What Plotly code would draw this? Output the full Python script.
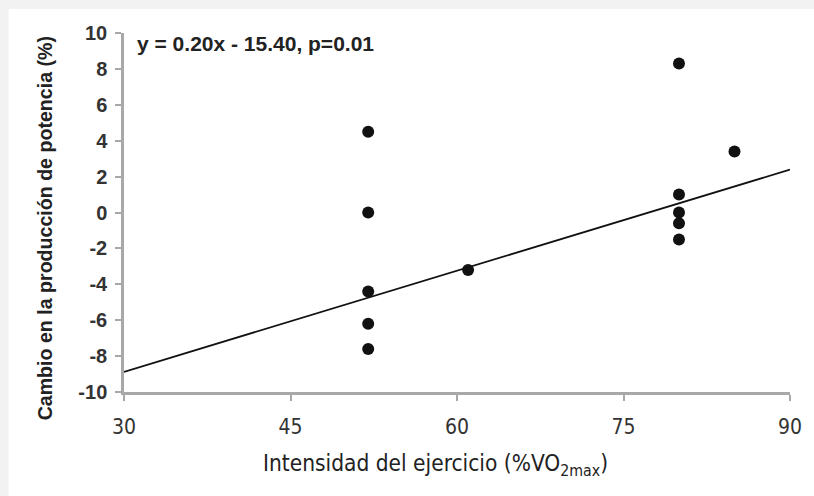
import plotly.graph_objects as go

# Data
intensity = [52, 52, 52, 52, 52, 61, 80, 80, 80, 80, 80, 85]
power_change = [4.5, 0.0, -4.4, -6.2, -7.6, -3.2, 8.3, 1.0, 0.0, -0.6, -1.5, 3.4]

# Regression line as drawn
fit_x = [30, 90]
fit_y = [-8.88, 2.39]

x_ticks = [30, 45, 60, 75, 90]
y_ticks = [-10, -8, -6, -4, -2, 0, 2, 4, 6, 8, 10]

equation_text = "y = 0.20x - 15.40, p=0.01"
x_title = "Intensidad del ejercicio (%VO<sub>2max</sub>)"
y_title = "Cambio en la producción de potencia (%)"

W, H = 814, 496
L, R, T, B = 124, 21, 33, 104
pw, ph = W - L - R, H - T - B

NARROW = "Liberation Sans Narrow, DejaVu Sans Condensed, Arial Narrow, sans-serif"
ARIAL = "Liberation Sans, Arial, sans-serif"


def px_x(p):
    return (p - L) / pw


def px_y(p):
    return 1 - (p - T) / ph


fig = go.Figure()
fig.add_trace(go.Scatter(x=fit_x, y=fit_y, mode="lines",
                         line=dict(color="#111111", width=1.8),
                         showlegend=False, hoverinfo="skip", cliponaxis=False))
fig.add_trace(go.Scatter(x=intensity, y=power_change, mode="markers",
                         marker=dict(color="#111111", size=12),
                         showlegend=False, cliponaxis=False))

# white panel over grey page (grey strip on top and left)
fig.add_shape(type="rect", xref="paper", yref="paper", layer="below",
              x0=px_x(8), x1=px_x(W + 5), y0=px_y(H + 5), y1=px_y(9),
              fillcolor="white", line=dict(width=0))

fig.add_annotation(x=px_x(135), y=px_y(43), xref="paper", yref="paper",
                   text="<b>" + equation_text + "</b>", showarrow=False,
                   xanchor="left", yanchor="middle",
                   font=dict(family=ARIAL, size=21, color="#222222"))

# axis titles
fig.add_annotation(x=px_x(437), y=px_y(465), xref="paper", yref="paper",
                   text=x_title, showarrow=False, xanchor="center", yanchor="middle",
                   font=dict(family=NARROW, size=22.5, color="#222222"))
fig.add_annotation(x=px_x(45), y=px_y(228), xref="paper", yref="paper",
                   text="<b>" + y_title + "</b>", showarrow=False, textangle=-90,
                   xanchor="center", yanchor="middle",
                   font=dict(family=ARIAL, size=19.6, color="#222222"))

axis_common = dict(showgrid=False, zeroline=False, showline=True,
                   linecolor="#a8a8a8", linewidth=2.5,
                   ticks="outside", tickcolor="#a8a8a8", tickwidth=1.5, ticklen=6)

fig.update_xaxes(range=[30, 90], tickvals=x_ticks, ticktext=[str(v) for v in x_ticks],
                 ticklabelstandoff=8,
                 tickfont=dict(family=NARROW, size=21, color="#333333"),
                 **axis_common)
fig.update_yaxes(range=[-10, 10], tickvals=y_ticks,
                 ticktext=["<b>" + str(v) + "</b>" for v in y_ticks],
                 ticklabelstandoff=4,
                 tickfont=dict(family=ARIAL, size=20, color="#333333"),
                 **axis_common)

fig.update_layout(width=W, height=H, margin=dict(l=L, r=R, t=T, b=B),
                  paper_bgcolor="#f2f2f2", plot_bgcolor="white")

fig.write_html("out.html", config={"displayModeBar": False},
               post_script="document.body.style.margin='0';document.body.style.overflow='hidden';")
